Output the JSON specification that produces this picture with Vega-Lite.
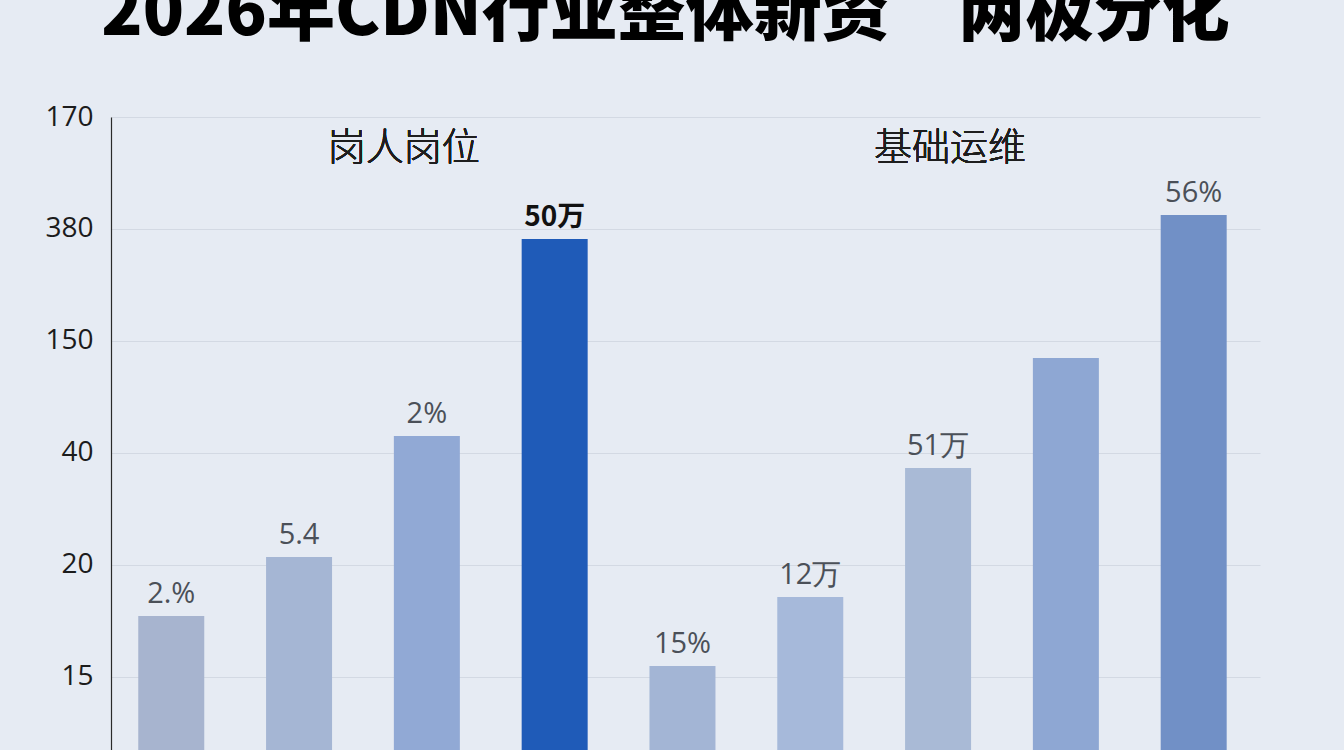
{
  "$schema": "https://vega.github.io/schema/vega-lite/v6.json",
  "autosize": "none",
  "width": 1149,
  "height": 633,
  "padding": {"left": 111, "top": 117, "right": 84, "bottom": 0},
  "background": "#e6ebf3",
  "title": {
    "text": "2026年CDN行业整体新资　两极分化",
    "anchor": "middle",
    "baseline": "alphabetic",
    "offset": 0,
    "dx": -20,
    "fontSize": 68,
    "fontWeight": 900,
    "font": "Noto Sans CJK SC",
    "color": "#000000"
  },
  "data": {
    "values": [
      {"id": "A1", "group": "岗人岗位", "level": 0.545, "label": "2.%"},
      {"id": "A2", "group": "岗人岗位", "level": 1.071, "label": "5.4"},
      {"id": "A3", "group": "岗人岗位", "level": 2.152, "label": "2%"},
      {"id": "A4", "group": "岗人岗位", "level": 3.911, "label": "50万"},
      {"id": "B1", "group": "基础运维", "level": 0.098, "label": "15%"},
      {"id": "B2", "group": "基础运维", "level": 0.714, "label": "12万"},
      {"id": "B3", "group": "基础运维", "level": 1.866, "label": "51万"},
      {"id": "B4", "group": "基础运维", "level": 2.848, "label": ""},
      {"id": "B5", "group": "基础运维", "level": 4.125, "label": "56%"}
    ]
  },
  "encoding": {
    "x": {
      "field": "id",
      "type": "nominal",
      "sort": null,
      "scale": {"paddingInner": 0.4836, "paddingOuter": 0.237, "align": 0.45},
      "axis": null
    },
    "y": {
      "field": "level",
      "type": "quantitative",
      "scale": {"domain": [-0.652, 5], "zero": false, "nice": false},
      "axis": {
        "values": [0, 1, 2, 3, 4, 5],
        "labelExpr": "['15','20','40','150','380','170'][datum.value]",
        "title": null,
        "ticks": false,
        "domainColor": "#2a2a2a",
        "domainWidth": 1.2,
        "gridColor": "#d3d9e3",
        "gridWidth": 1,
        "labelFontSize": 28,
        "labelColor": "#1c1c1c",
        "labelPadding": 18,
        "labelFont": "Open Sans"
      }
    }
  },
  "layer": [
    {
      "mark": {"type": "bar"},
      "encoding": {
        "y2": {"datum": -0.652},
        "color": {
          "field": "id",
          "type": "nominal",
          "scale": {
            "domain": ["A1", "A2", "A3", "A4", "B1", "B2", "B3", "B4", "B5"],
            "range": ["#a7b4cf", "#a5b6d4", "#91a9d5", "#1f5bb8", "#a3b5d5", "#a6b9da", "#a9bad6", "#8ea7d3", "#7190c6"]
          },
          "legend": null
        }
      }
    },
    {
      "transform": [{"filter": "datum.id !== 'A4'"}],
      "mark": {"type": "text", "baseline": "bottom", "dy": -7, "fontSize": 29, "color": "#4b5058", "font": "Open Sans"},
      "encoding": {"text": {"field": "label"}}
    },
    {
      "transform": [{"filter": "datum.id === 'A4'"}],
      "mark": {"type": "text", "baseline": "bottom", "dy": -7, "fontSize": 28, "fontWeight": "bold", "color": "#111111", "font": "Noto Sans CJK SC"},
      "encoding": {"text": {"field": "label"}}
    },
    {
      "mark": {"type": "text", "baseline": "middle", "dx": -23, "fontSize": 38, "fontWeight": 300, "color": "#1e1e1e", "font": "Noto Sans CJK SC"},
      "encoding": {
        "x": {"datum": "A3"},
        "y": {"datum": 4.714},
        "text": {"value": "岗人岗位"}
      }
    },
    {
      "mark": {"type": "text", "baseline": "middle", "dx": 12, "fontSize": 38, "fontWeight": 300, "color": "#1e1e1e", "font": "Noto Sans CJK SC"},
      "encoding": {
        "x": {"datum": "B3"},
        "y": {"datum": 4.714},
        "text": {"value": "基础运维"}
      }
    }
  ],
  "config": {
    "view": {"stroke": null}
  }
}
